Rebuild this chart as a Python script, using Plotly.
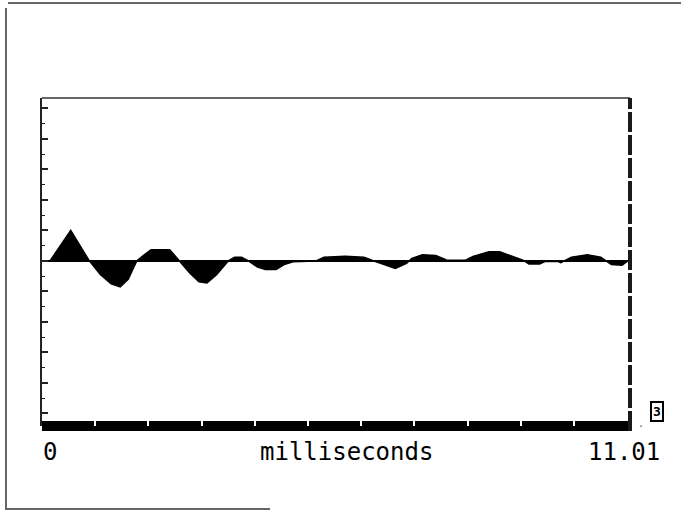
import plotly.graph_objects as go

# waveform (time in ms, amplitude in tick units)
time_ms = [0.15, 0.54, 0.89, 1.10, 1.30, 1.47, 1.62, 1.78, 1.92, 2.05, 2.40, 2.59, 2.78, 2.95,
           3.10, 3.28, 3.50, 3.62, 3.75, 3.88, 4.05, 4.20, 4.40, 4.55, 4.72, 5.15, 5.30, 5.70,
           6.05, 6.20, 6.40, 6.64, 6.85, 6.95, 7.15, 7.40, 7.60, 7.95, 8.10, 8.40, 8.60, 8.85,
           9.05, 9.15, 9.35, 9.45, 9.70, 9.75, 9.80, 9.95, 10.25, 10.50, 10.60, 10.70, 10.90, 11.01]
amplitude = [0.0, 1.0, 0.0, -0.45, -0.75, -0.85, -0.6, 0.0, 0.2, 0.37, 0.37, 0.0, -0.4, -0.68,
             -0.72, -0.45, 0.0, 0.12, 0.12, 0.0, -0.2, -0.28, -0.28, -0.12, -0.03, 0.0, 0.12, 0.15,
             0.12, 0.02, -0.1, -0.25, -0.08, 0.08, 0.2, 0.18, 0.03, 0.02, 0.15, 0.3, 0.3, 0.15,
             0.02, -0.1, -0.1, -0.02, -0.02, -0.06, -0.02, 0.12, 0.2, 0.12, 0.0, -0.12, -0.14, 0.0]

x_tick_vals = [1, 2, 3, 4, 5, 6, 7, 8, 9, 10]
x_min_label = "0"
x_max_label = "11.01"
x_title = "milliseconds"

W, H = 681, 512
L, R, T, B = 42, 630, 98, 426


def px(xp):
    return (xp - L) / (R - L)


def py(yp):
    return (B - yp) / (B - T)


fig = go.Figure()
fig.add_trace(go.Scatter(x=time_ms, y=amplitude, mode="lines", fill="tozeroy",
                         fillcolor="black", line=dict(color="black", width=1.5),
                         hoverinfo="skip", showlegend=False))

mono = "DejaVu Sans Mono"
shapes = [
    dict(type="line", xref="x domain", yref="y domain", x0=0, x1=1, y0=0, y1=0,
         line=dict(color="black", width=10), layer="below"),
    dict(type="line", xref="x domain", yref="y domain", x0=0, x1=1, y0=1, y1=1,
         line=dict(color="#333333", width=1.5)),
    dict(type="line", xref="x domain", yref="y domain", x0=1, x1=1, y0=-0.015, y1=1,
         line=dict(color="#1a1a1a", width=4, dash="20px,3px")),
    dict(type="line", xref="paper", yref="paper", x0=px(8), x1=px(681), y0=py(3), y1=py(3),
         line=dict(color="#666666", width=2)),
    dict(type="line", xref="paper", yref="paper", x0=px(6), x1=px(6), y0=py(8), y1=py(510),
         line=dict(color="#666666", width=2)),
    dict(type="line", xref="paper", yref="paper", x0=px(6), x1=px(270), y0=py(509), y1=py(509),
         line=dict(color="#666666", width=2)),
]

lab_font = dict(family=mono, size=24, color="black")
annotations = [
    dict(xref="paper", yref="paper", x=px(41), y=py(452), text=x_min_label, showarrow=False,
         xanchor="left", yanchor="middle", font=lab_font),
    dict(xref="paper", yref="paper", x=px(346), y=py(452), text=x_title, showarrow=False,
         xanchor="center", yanchor="middle", font=lab_font),
    dict(xref="paper", yref="paper", x=px(662), y=py(452), text=x_max_label, showarrow=False,
         xanchor="right", yanchor="middle", font=lab_font),
    dict(xref="paper", yref="paper", x=px(657), y=py(411), text="3", showarrow=False,
         xanchor="center", yanchor="middle", bordercolor="black", borderwidth=2, borderpad=1,
         font=dict(family=mono, size=13, color="black", weight="bold")),
    dict(xref="paper", yref="paper", x=px(641), y=py(426), text="·", showarrow=False,
         xanchor="center", yanchor="middle", font=dict(family=mono, size=10, color="#555555")),
]

fig.update_layout(
    width=W, height=H,
    margin=dict(l=L, r=W - R, t=T, b=H - B, pad=0),
    paper_bgcolor="white", plot_bgcolor="white",
    shapes=shapes, annotations=annotations,
    xaxis=dict(range=[0, 11.05], showgrid=False, zeroline=False, showline=False,
               tickvals=x_tick_vals, ticks="inside", ticklen=5, tickwidth=2, tickcolor="white",
               showticklabels=False),
    yaxis=dict(range=[-5.41, 5.34], showgrid=False, zeroline=True, zerolinecolor="black",
               zerolinewidth=1.5, showline=True, linecolor="#222222", linewidth=1.5,
               ticks="inside", tick0=0, dtick=1, ticklen=6, tickwidth=1.5, tickcolor="#222222",
               minor=dict(ticks="inside", dtick=0.5, ticklen=3, tickwidth=1.2, tickcolor="#222222"),
               showticklabels=False),
)

fig.write_html("out.html", config={"displayModeBar": False},
               post_script="document.body.style.margin='0';document.body.style.overflow='hidden';")
